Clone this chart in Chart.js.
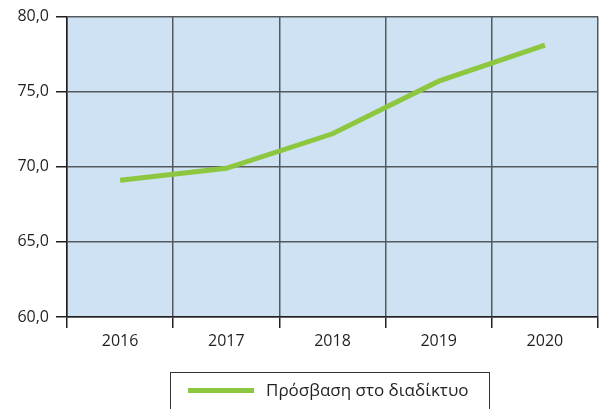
<!DOCTYPE html>
<html>
<head>
<meta charset="utf-8">
<script src="https://cdn.jsdelivr.net/npm/chart.js@4"></script>
<style>
  body { margin: 0; background: #fff; font-family: "Open Sans", sans-serif; }
  #wrap { position: relative; width: 604px; height: 409px; overflow: hidden; }
  #legend {
    position: absolute; left: 170px; top: 372px; width: 320px; height: 45px;
    border: 1px solid #333; box-sizing: border-box;
  }
  #legend .swatch {
    position: absolute; left: 17px; top: 15px; width: 66px; height: 5px; background: #8dc63f;
  }
  #legend .label {
    position: absolute; left: 95px; top: 5px; font-size: 17px; color: #231f20; white-space: nowrap;
  }
</style>
</head>
<body>
<div id="wrap">
  <canvas id="accessChart" width="604" height="409"></canvas>
  <div id="legend"><div class="swatch"></div><div class="label"></div></div>
</div>
<script>
// Internet access by year
const years = ['2016', '2017', '2018', '2019', '2020'];
const access = [69.1, 69.9, 72.2, 75.7, 78.1];
const seriesName = 'Πρόσβαση στο διαδίκτυο';
const yTicks = [60, 65, 70, 75, 80];

const lineColor = '#8dc63f';
const gridColor = '#55585c';
const textColor = '#231f20';

document.querySelector('#legend .label').textContent = seriesName;

// Light blue fill behind the plot area
const plotBackground = {
    id: 'plotBackground',
    beforeDraw(chart) {
        const { ctx, chartArea: a } = chart;
        ctx.save();
        ctx.fillStyle = '#cfe2f3';
        ctx.fillRect(a.left, a.top, a.right - a.left, a.bottom - a.top);
        ctx.restore();
    }
};

const ctx = document.getElementById('accessChart').getContext('2d');
const accessChart = new Chart(ctx, {
    type: 'line',
    data: {
        labels: years,
        datasets: [
            {
                label: seriesName,
                data: access,
                borderColor: lineColor,
                borderWidth: 5,
                pointRadius: 0,
                tension: 0,
                fill: false,
            },
        ],
    },
    options: {
        responsive: false,
        animation: false,
        layout: { padding: { left: 0, top: 15, right: 6, bottom: 52 } },
        plugins: {
            legend: { display: false },
            tooltip: { enabled: false },
        },
        scales: {
            x: {
                offset: true,
                grid: {
                    offset: true,
                    color: gridColor,
                    lineWidth: 1.5,
                    tickLength: 11,
                    tickColor: '#231f20',
                },
                border: { color: '#231f20', width: 1.5 },
                ticks: {
                    color: textColor,
                    font: { family: 'Open Sans', size: 16 },
                    padding: 4,
                    maxRotation: 0,
                },
                afterFit(scale) { scale.height = 40; },
            },
            y: {
                min: 60,
                max: 80,
                afterBuildTicks(scale) { scale.ticks = yTicks.map(v => ({ value: v })); },
                grid: {
                    color: gridColor,
                    lineWidth: 1.5,
                    tickLength: 11,
                    tickColor: '#231f20',
                },
                border: { color: '#231f20', width: 1.5 },
                ticks: {
                    color: textColor,
                    font: { family: 'Open Sans', size: 16 },
                    padding: 7,
                    callback: v => v.toFixed(1).replace('.', ','),
                },
                afterFit(scale) { scale.width = 67; },
            },
        },
    },
    plugins: [plotBackground],
});
</script>
</body>
</html>
